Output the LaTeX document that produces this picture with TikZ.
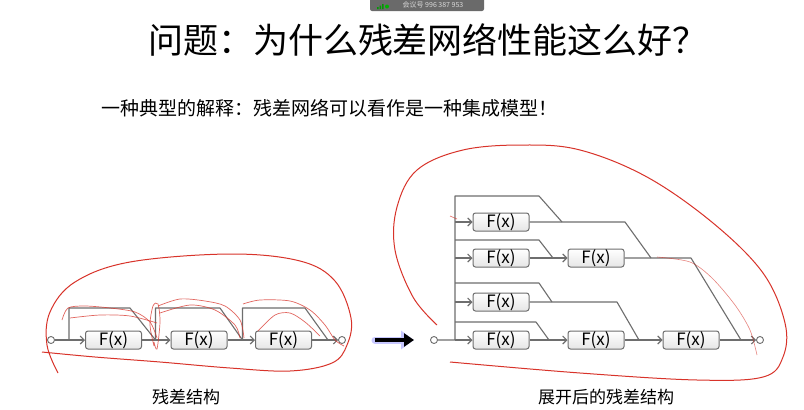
\documentclass[tikz,border=0pt]{standalone}
\usepackage{fontspec}
\setmainfont{Noto Sans CJK SC}
\usetikzlibrary{arrows.meta}
\definecolor{ln}{HTML}{6E6E6E}
\definecolor{rd}{HTML}{D8332A}
\definecolor{barc}{HTML}{6A6A6A}
\begin{document}
\begin{tikzpicture}[x=1pt,y=-1pt,
  fx/.style={draw=ln, line width=1pt, rounded corners=2.5pt, top color=white, bottom color=gray!20,
    minimum width=56pt, minimum height=18pt, inner sep=0pt, font=\fontsize{17}{17}\selectfont},
  port/.style={circle, draw=ln, fill=white, line width=0.9pt, minimum size=7pt, inner sep=0pt},
  wire/.style={draw=ln, line width=1.1pt, line join=round},
  arr/.style={wire, -{Straight Barb[length=4pt,width=8pt]}},
  ink/.style={draw=rd, line width=1pt},
  thinink/.style={draw=rd, line width=0.7pt, opacity=0.75},
  lbl/.style={font=\fontsize{17}{17}\selectfont},
]
\fill[white] (0,0) rectangle (804,410);
\useasboundingbox (0,0) rectangle (804,410);

% top meeting bar
\fill[barc, rounded corners=2pt] (370,-6) rectangle (484,11);
\node[inner sep=0pt, text=gray!30, font=\fontsize{7}{7}\selectfont] (bar) at (433,5) {会议号 996 387 953};
\fill[green!60!black] (377,7) rectangle (378.5,9) (379.5,5.5) rectangle (381,9) (382,4) rectangle (383.5,9);
\fill[green!70!black] (387,6.5) circle (2pt);

% titles
\node[font=\fontsize{35}{35}\selectfont] (title) at (428,40) {问题：为什么残差网络性能这么好？};
\node[anchor=west, font=\fontsize{19}{19}\selectfont] (sub) at (98,108) {一种典型的解释：残差网络可以看作是一种集成模型！};

% ---------- left: residual structure ----------
\node[port] (L0) at (51,340) {};
\node[fx] (La) at (113.5,340) {F(x)};
\node[fx] (Lb) at (199,340) {F(x)};
\node[fx] (Lc) at (283.5,340) {F(x)};
\node[port] (L1) at (342,340) {};
\coordinate (ls1) at (69,340);
\coordinate (lj1) at (155.5,340);
\coordinate (lj2) at (242.5,340);
\coordinate (lj3) at (328,340);
\draw[arr] (L0) -- (La);
\draw[arr] (La) -- (Lb);
\draw[arr] (Lb) -- (Lc);
\draw[arr] (Lc) -- (L1);
\draw[wire] (ls1) -- (69,308) -- (130,308) -- (lj1);
\draw[wire] (lj1) -- (155.5,308) -- (220,308) -- (lj2);
\draw[wire] (lj2) -- (242.5,308) -- (305,308) -- (lj3);
\node[lbl] (lcap) at (186,397) {残差结构};

% ---------- right: unrolled structure ----------
\coordinate (ba1) at (375,340);
\coordinate (ba2) at (414,340);
\draw[line width=7pt, color=blue!22, line cap=round, -{Triangle[length=13pt,width=18pt]}] (ba1) -- (ba2);
\draw[line width=3.6pt, color=black, -{Triangle[length=10pt,width=13pt]}] (ba1) -- (ba2);

\node[port] (R0) at (434,340) {};
\coordinate (t0) at (455,340);
\coordinate (tA) at (455,222);
\coordinate (tB) at (455,258);
\coordinate (tC) at (455,302);
\coordinate (ttop) at (455,196);
\coordinate (tBs) at (455,240);
\coordinate (tCs) at (455,283);
\coordinate (tDs) at (455,322);
\node[fx] (A1) at (501,222) {F(x)};
\node[fx] (B1) at (501,258) {F(x)};
\node[fx] (B2) at (596,258) {F(x)};
\node[fx] (C1) at (501,302) {F(x)};
\node[fx] (D1) at (501,340) {F(x)};
\node[fx] (D2) at (596,340) {F(x)};
\node[fx] (D3) at (691,340) {F(x)};
\node[port] (R1) at (760,340) {};
\coordinate (jA) at (562,222);
\coordinate (jB) at (553,258);
\coordinate (jC) at (552,302);
\coordinate (jD) at (549,340);
\coordinate (jB2) at (651,258);
\coordinate (jD2) at (639,340);
\coordinate (jD3) at (741,340);

\draw[wire] (R0) -- (t0) -- (ttop) -- (539,196) -- (jA);
\draw[arr] (tA) -- (A1);
\draw[arr] (tB) -- (B1);
\draw[arr] (tC) -- (C1);
\draw[arr] (t0) -- (D1);
\draw[wire] (tBs) -- (539,240) -- (jB);
\draw[wire] (tCs) -- (539,283) -- (jC);
\draw[wire] (tDs) -- (536,322) -- (jD);
\draw[wire] (A1) -- (625,222) -- (jB2);
\draw[arr] (B1) -- (B2);
\draw[wire] (B2) -- (jB2) -- (691,258) -- (jD3);
\draw[wire] (C1) -- (617,302) -- (jD2);
\draw[arr] (D1) -- (D2);
\draw[arr] (D2) -- (D3);
\draw[arr] (D3) -- (R1);
\node[lbl] (rcap) at (606,397) {展开后的残差结构};

% ---------- red hand-drawn annotations ----------
\draw[ink] plot[smooth, tension=0.6] coordinates {(58,373) (47,345) (50,312) (75,282) (130,262) (230,254) (300,261) (335,281) (351,318) (347,345) (332,363) (290,371) (230,368) (160,362) (95,357) (42,352)};
\draw[thinink] plot[smooth] coordinates {(62,320) (68,308) (85,306) (110,308) (135,312) (150,322) (157,338)};
\draw[thinink] plot[smooth] coordinates {(70,318) (100,315) (130,316) (157,323)};
\draw[thinink] plot[smooth] coordinates {(154,346) (150,325) (153,306) (158,304) (160,322) (157,349) (154,342)};
\draw[thinink] plot[smooth] coordinates {(158,306) (180,299) (205,301) (225,306) (240,320) (244,338)};
\draw[thinink] plot[smooth] coordinates {(160,313) (190,305) (215,310) (235,325) (240,338)};
\draw[thinink] plot[smooth] coordinates {(243,304) (260,300) (290,301) (310,310) (325,325) (335,340) (344,346)};
\draw[thinink] plot[smooth] coordinates {(258,331) (275,315) (290,313) (305,322) (320,336)};

\draw[ink] plot[smooth, tension=0.6] coordinates {(437,325) (413,297) (395,250) (397,207) (417,170) (463,150) (523,145) (580,150) (647,177) (713,223) (763,273) (785,323) (783,357) (763,377) (697,380) (580,373) (450,362)};
\draw[draw=rd, line width=0.6pt, opacity=0.6] plot[smooth] coordinates {(657,257) (690,262) (712,278) (735,305) (750,330) (757,355)};
\draw[draw=rd, line width=0.6pt, opacity=0.7] (450,216) -- (457,219);
\end{tikzpicture}
\end{document}
